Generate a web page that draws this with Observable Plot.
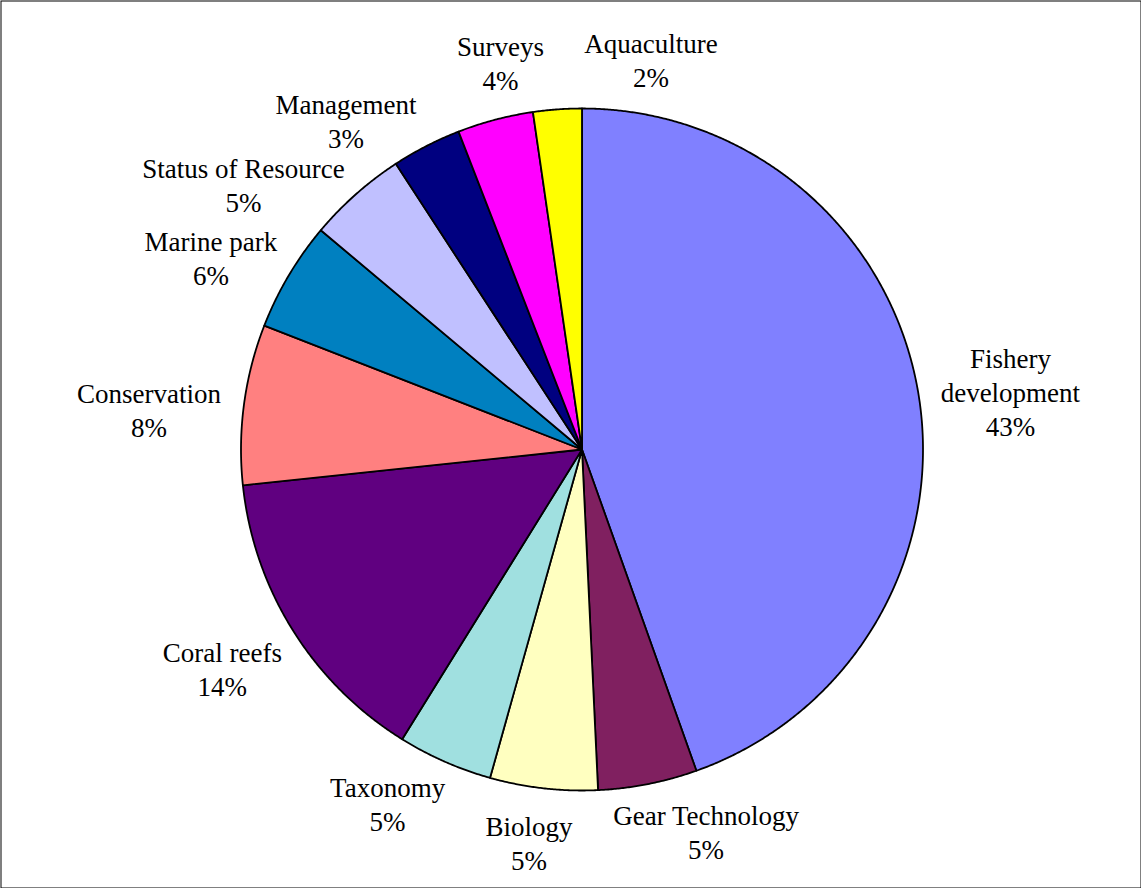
<!DOCTYPE html>
<html><head><meta charset="utf-8">
<script src="https://cdn.jsdelivr.net/npm/d3@7"></script>
<script src="https://cdn.jsdelivr.net/npm/@observablehq/plot@0.6"></script>
<style>body{margin:0;background:#fff}#chart svg{display:block}</style>
</head><body><div id="chart"></div>
<script>
// ---- data ----
const categories = ["Fishery development","Gear Technology","Biology","Taxonomy","Coral reefs","Conservation","Marine park","Status of Resource","Management","Surveys","Aquaculture"];
const labelNames = ["Fishery\ndevelopment","Gear Technology","Biology","Taxonomy","Coral reefs","Conservation","Marine park","Status of Resource","Management","Surveys","Aquaculture"];
const shares = [44.6, 4.7, 5.1, 4.5, 14.5, 7.6, 5.2, 4.7, 3.3, 3.6, 2.3];
const percentLabels = ["43%","5%","5%","5%","14%","8%","6%","5%","3%","4%","2%"];
const colors = ["#8080FF","#802060","#FFFFC0","#A0E0E0","#600080","#FF8080","#0080C0","#C0C0FF","#000080","#FF00FF","#FFFF00"];

// ---- layout ----
const W = 1141, H = 888, CX = 581.5, CY = 449, R = 341;
const FONT = 27, LINE = 1.26, GAP = 24, PADX = 40, PADY = 2, SIDE_DROP = 12;
const SERIF = "'Liberation Serif', 'Times New Roman', serif";

const arcs = d3.pie().sort(null).value(d => d)(shares);

// slice outlines in unit-radius data space
const slicePts = [];
arcs.forEach((a, i) => {
  const name = categories[i];
  const n = Math.max(2, Math.ceil((a.endAngle - a.startAngle) / (Math.PI / 720)));
  slicePts.push({name, x: 0, y: 0});
  for (let k = 0; k <= n; k++) {
    const t = a.startAngle + (a.endAngle - a.startAngle) * k / n;
    slicePts.push({name, x: Math.sin(t), y: Math.cos(t)});
  }
});

// label placement with simple collision relaxation (smaller slices yield more)
const ctx = document.createElement("canvas").getContext("2d");
ctx.font = `${FONT}px ${SERIF}`;
const labels = arcs.map((a, i) => {
  const text = labelNames[i] + "\n" + percentLabels[i];
  const lines = text.split("\n");
  const w = d3.max(lines, l => ctx.measureText(l).width);
  const h = (lines.length - 1) * FONT * LINE + FONT;
  return {text, w, h, s: shares[i], theta: (a.startAngle + a.endAngle) / 2};
});
function center(l) {
  const ux = Math.sin(l.theta), uy = -Math.cos(l.theta);
  const px = CX + (R + GAP) * ux, py = CY + (R + GAP) * uy;
  return [px + ux * l.w / 2, py + uy * l.h / 2 + SIDE_DROP * ux * ux];
}
function overlap(a, b) {
  const [ax, ay] = center(a), [bx, by] = center(b);
  return Math.abs(ax - bx) < (a.w + b.w) / 2 + PADX && Math.abs(ay - by) < (a.h + b.h) / 2 + PADY;
}
for (let it = 0; it < 6000; it++) {
  let moved = false;
  for (let i = 0; i < labels.length; i++) {
    const j = (i + 1) % labels.length;
    const a = labels[i], b = labels[j];
    if (overlap(a, b)) {
      const d = 0.003, t = a.s + b.s;
      a.theta -= d * b.s / t; b.theta += d * a.s / t; moved = true;
    }
  }
  if (!moved) break;
}
labels.forEach(l => {
  const [px, py] = center(l);
  l.x = (px - CX) / R; l.y = (CY - py) / R;
});

const chart = Plot.plot({
  width: W, height: H, margin: 0,
  x: {domain: [(0 - CX) / R, (W - CX) / R], axis: null},
  y: {domain: [(CY - H) / R, CY / R], axis: null},
  color: {domain: categories, range: colors},
  style: {fontFamily: SERIF, background: "#fff", color: "#000"},
  marks: [
    Plot.line(slicePts, {x: "x", y: "y", z: "name", fill: "name", stroke: "#000", strokeWidth: 1.8, strokeLinejoin: "round", curve: "linear-closed"}),
    Plot.text(labels, {x: "x", y: "y", text: "text", fontSize: FONT, fontFamily: SERIF, lineHeight: LINE, lineAnchor: "middle", textAnchor: "middle", fill: "#000"}),
    Plot.frame({stroke: "#000", strokeWidth: 1, inset: 0.5})
  ]
});
document.getElementById("chart").appendChild(chart);
</script>
</body></html>
